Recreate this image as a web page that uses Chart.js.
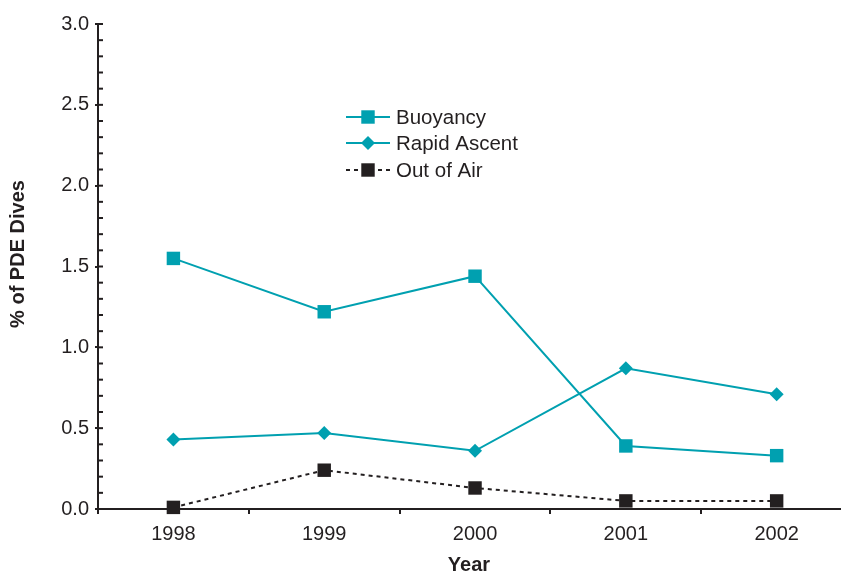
<!DOCTYPE html>
<html>
<head>
<meta charset="utf-8">
<script src="https://cdn.jsdelivr.net/npm/chart.js@4.4.1/dist/chart.umd.min.js"></script>
<style>
  html, body { margin: 0; padding: 0; background: #fff; }
  #wrap { width: 841px; height: 575px; position: relative; }
</style>
</head>
<body>
<div id="wrap"><canvas id="c" width="841" height="575"></canvas></div>
<script>
// data
const years = [1998, 1999, 2000, 2001, 2002];
const buoyancy = [1.55, 1.22, 1.44, 0.39, 0.33];
const rapidAscent = [0.43, 0.47, 0.36, 0.87, 0.71];
const outOfAir = [0.01, 0.24, 0.13, 0.05, 0.05];

const TEAL = '#00a0b0';
const INK = '#231f20';
const FONT = "'Liberation Sans', Arial, sans-serif";
const X_MIN = 1997.5, X_MAX = 2002.42;

const pts = arr => arr.map((v, i) => ({ x: years[i], y: v }));

// legend drawn inside the plot, like the original
const innerLegend = {
    id: 'innerLegend',
    afterDraw(chart) {
        const ctx = chart.ctx;
        const x0 = 346, x1 = 390, tx = 396;
        const cx = (x0 + x1) / 2;
        const rows = [117, 143, 170];
        ctx.save();
        chart.data.datasets.forEach((ds, i) => {
            const y = rows[i];
            ctx.strokeStyle = ds.borderColor;
            ctx.lineWidth = ds.borderWidth;
            ctx.setLineDash(ds.borderDash || []);
            ctx.beginPath(); ctx.moveTo(x0, y); ctx.lineTo(x1, y); ctx.stroke();
            ctx.setLineDash([]);
            ctx.fillStyle = ds.pointBackgroundColor;
            ctx.beginPath();
            const r = ds.pointRadius;
            if (ds.pointStyle === 'rectRot') {
                ctx.moveTo(cx, y - r); ctx.lineTo(cx + r, y);
                ctx.lineTo(cx, y + r); ctx.lineTo(cx - r, y);
            } else {
                const h = r * Math.SQRT1_2;
                ctx.rect(cx - h, y - h, h * 2, h * 2);
            }
            ctx.fill();
            ctx.fillStyle = INK;
            ctx.font = '20.5px ' + FONT;
            ctx.textBaseline = 'middle';
            ctx.fillText(ds.label, tx, y + 1);
        });
        ctx.restore();
    }
};

// minor ticks on the y axis point into the plot, plus the y title
const innerTicks = {
    id: 'innerTicks',
    afterDraw(chart) {
        const ys = chart.scales.y;
        const ctx = chart.ctx;
        const x = chart.chartArea.left;
        ctx.save();
        ctx.strokeStyle = INK;
        ctx.lineWidth = 2;
        ys.ticks.forEach(t => {
            const p = ys.getPixelForValue(t.value);
            ctx.beginPath(); ctx.moveTo(x, p); ctx.lineTo(x + 5, p); ctx.stroke();
        });
        // y title sits a little above centre in the original
        ctx.translate(18, 254);
        ctx.rotate(-Math.PI / 2);
        ctx.fillStyle = INK;
        ctx.font = 'bold 20px ' + FONT;
        ctx.textAlign = 'center';
        ctx.textBaseline = 'middle';
        ctx.fillText('% of PDE Dives', 0, 0);
        ctx.restore();
    }
};

const isHalf = v => Math.abs(v * 2 - Math.round(v * 2)) < 1e-6 && !Number.isInteger(v);

new Chart(document.getElementById('c'), {
    type: 'line',
    data: {
        datasets: [
            { label: 'Buoyancy', data: pts(buoyancy), borderColor: TEAL, backgroundColor: TEAL,
              pointBackgroundColor: TEAL, pointBorderWidth: 0, pointStyle: 'rect', pointRadius: 9.5,
              borderWidth: 2, tension: 0 },
            { label: 'Rapid Ascent', data: pts(rapidAscent), borderColor: TEAL, backgroundColor: TEAL,
              pointBackgroundColor: TEAL, pointBorderWidth: 0, pointStyle: 'rectRot', pointRadius: 7,
              borderWidth: 2, tension: 0 },
            { label: 'Out of Air', data: pts(outOfAir), borderColor: INK, backgroundColor: INK,
              pointBackgroundColor: INK, pointBorderWidth: 0, pointStyle: 'rect', pointRadius: 9.5,
              borderWidth: 2, borderDash: [4, 4], tension: 0, clip: false }
        ]
    },
    options: {
        responsive: false,
        animation: false,
        layout: { autoPadding: false, padding: { top: 24, right: 1, left: 0, bottom: 0 } },
        plugins: { legend: { display: false }, tooltip: { enabled: false } },
        scales: {
            x: {
                type: 'linear', min: X_MIN, max: X_MAX,
                afterBuildTicks: s => {
                    s.ticks = [1997.5, 1998, 1998.5, 1999, 1999.5, 2000, 2000.5, 2001, 2001.5, 2002, X_MAX].map(v => ({ value: v }));
                },
                afterFit: s => { s.height = 66; s.paddingLeft = 0; s.paddingRight = 0; },
                border: { color: INK, width: 2 },
                grid: { drawOnChartArea: false, tickLength: 5, lineWidth: 2,
                        tickColor: c => isHalf(c.tick.value) ? INK : 'rgba(0,0,0,0)' },
                ticks: { color: INK, font: { size: 20, family: FONT }, padding: 8, maxRotation: 0, autoSkip: false,
                         callback: v => Number.isInteger(v) ? String(v) : '' },
                title: { display: true, text: 'Year', color: INK, font: { size: 20, weight: 'bold', family: FONT, lineHeight: 1 }, padding: { top: 4, bottom: 0 } }
            },
            y: {
                min: 0, max: 3,
                afterBuildTicks: s => { s.ticks = []; for (let i = 0; i <= 30; i++) s.ticks.push({ value: i / 10 }); },
                afterFit: s => { s.width = 98; },
                border: { color: INK, width: 2 },
                grid: { drawOnChartArea: false, tickLength: 3, lineWidth: 2,
                        tickColor: c => (Math.round(c.tick.value * 10) % 5 === 0) ? INK : 'rgba(0,0,0,0)' },
                ticks: { color: INK, font: { size: 20, family: FONT }, padding: 6, autoSkip: false,
                         callback: v => (Math.round(v * 10) % 5 === 0) ? v.toFixed(1) : '' }
            }
        }
    },
    plugins: [innerTicks, innerLegend]
});
</script>
</body>
</html>
